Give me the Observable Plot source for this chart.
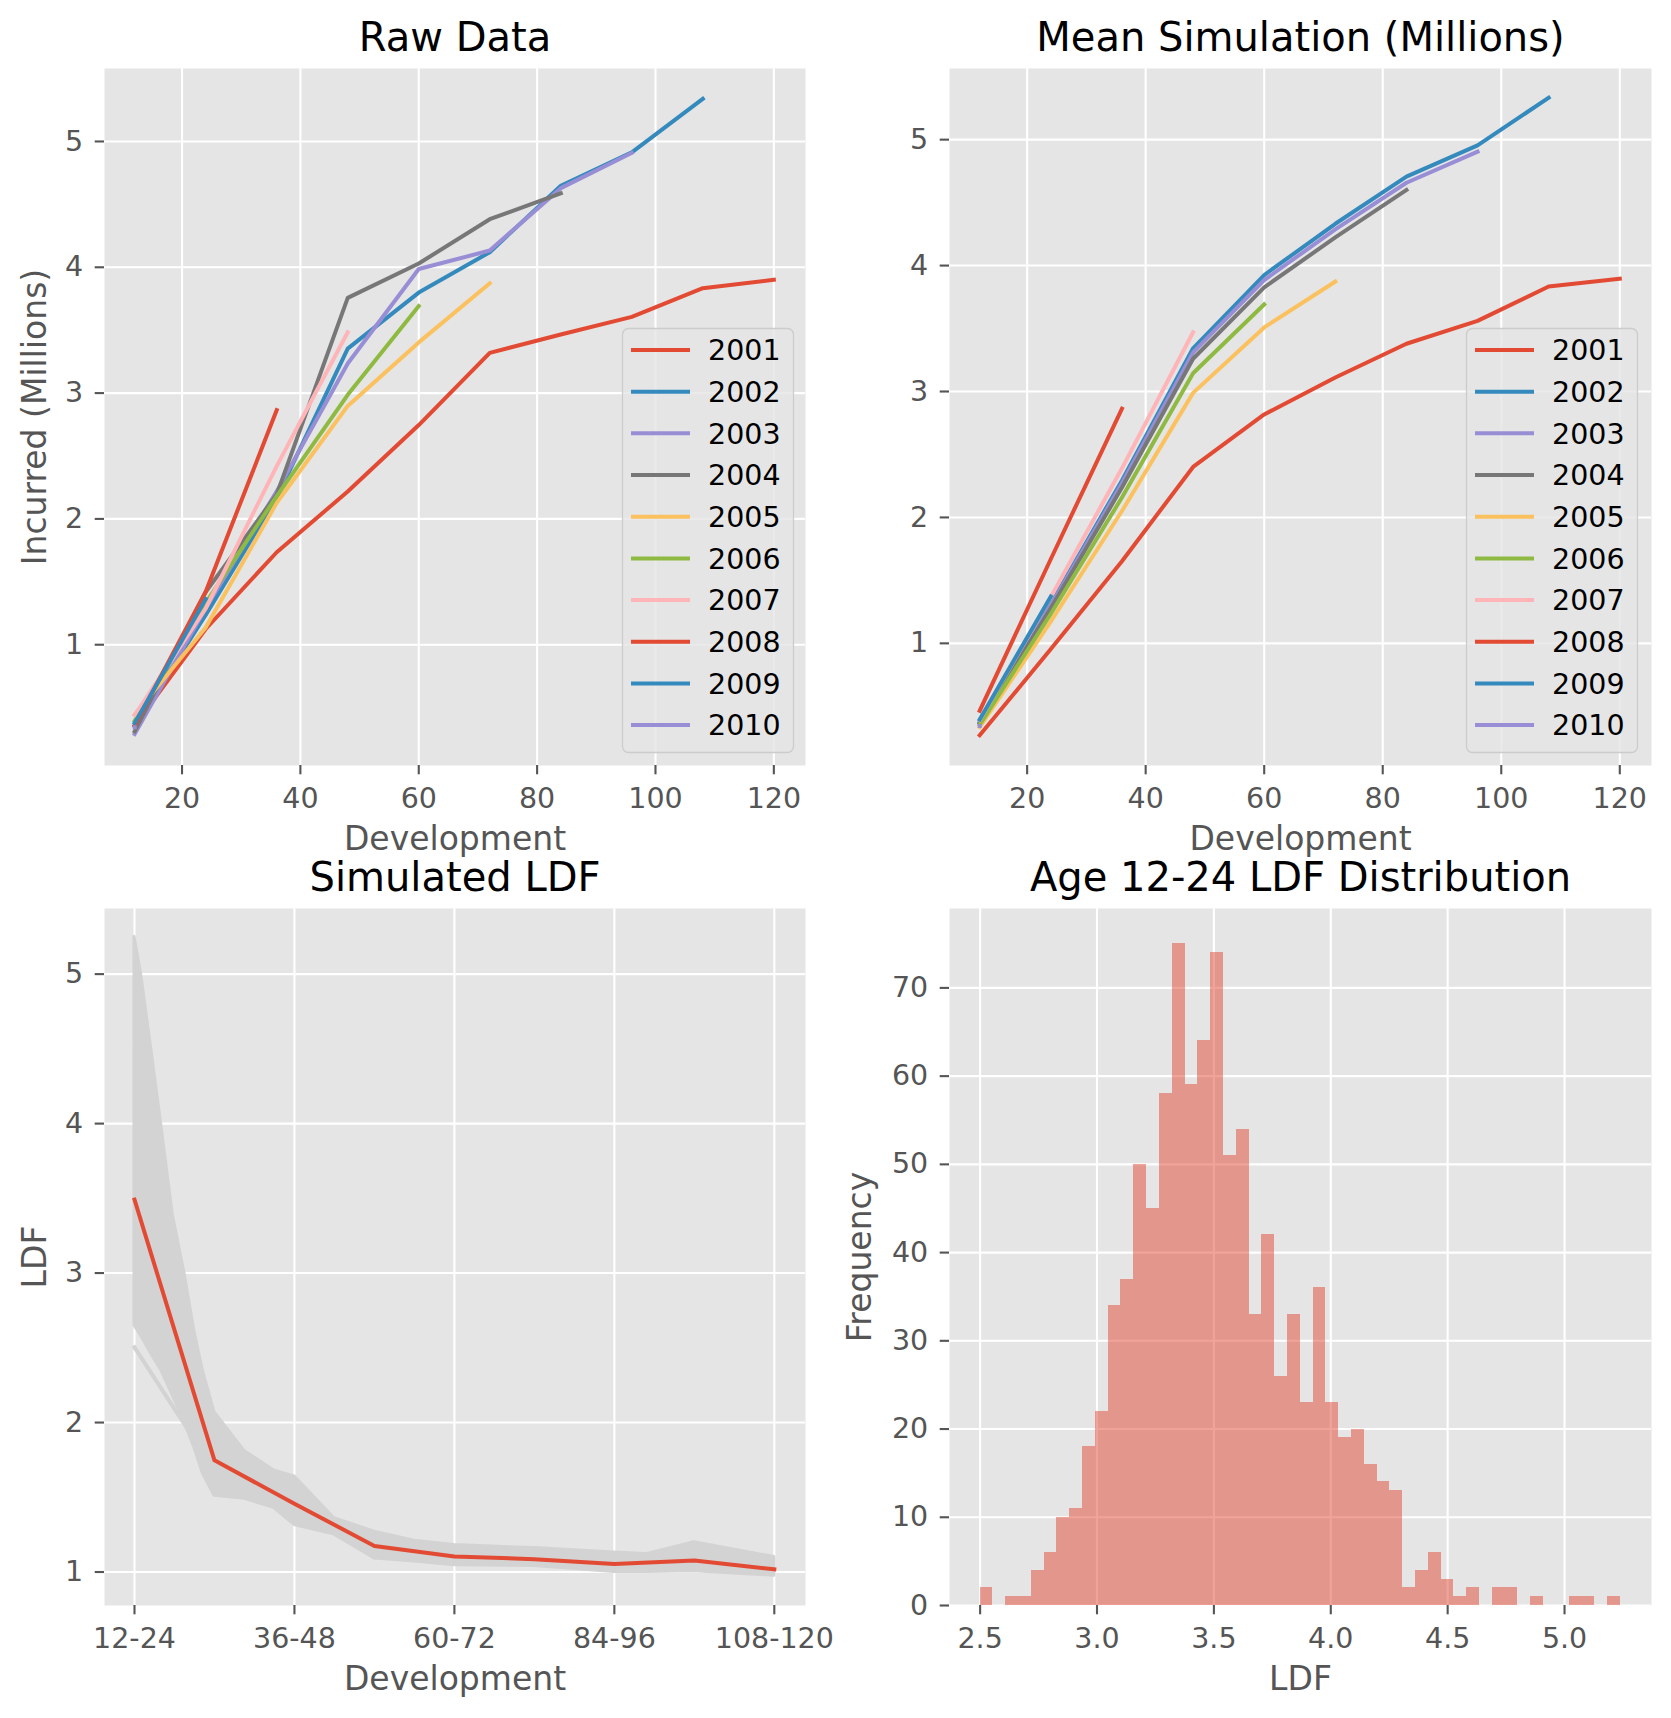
<!DOCTYPE html>
<html>
<head>
<meta charset="utf-8">
<script src="https://cdn.jsdelivr.net/npm/d3@7"></script>
<script src="https://cdn.jsdelivr.net/npm/@observablehq/plot@0.6"></script>
<style>
  html, body { margin: 0; padding: 0; background: #ffffff; }
  #fig { position: relative; width: 1671px; height: 1718px; background: #ffffff; font-family: "DejaVu Sans"; }
</style>
</head>
<body>
<div id="fig"></div>
<script>
// ---------------- data ----------------
const years = [2001, 2002, 2003, 2004, 2005, 2006, 2007, 2008, 2009, 2010];
const ages = [12, 24, 36, 48, 60, 72, 84, 96, 108, 120];
const lineColors = ["#E24A33", "#348ABD", "#988ED5", "#777777", "#FBC15E", "#8EBA42", "#FFB5B8", "#E24A33", "#348ABD", "#988ED5"];

// Raw incurred triangle (millions), one row per origin year
const rawIncurred = [
  [0.358, 1.125, 1.735, 2.218, 2.746, 3.320, 3.466, 3.606, 3.834, 3.901],
  [0.352, 1.236, 2.170, 3.353, 3.799, 4.120, 4.648, 4.914, 5.339],
  [0.291, 1.292, 2.219, 3.235, 3.986, 4.133, 4.629, 4.909],
  [0.311, 1.419, 2.195, 3.757, 4.030, 4.382, 4.588],
  [0.443, 1.136, 2.128, 2.898, 3.403, 3.873],
  [0.396, 1.333, 2.181, 2.986, 3.692],
  [0.441, 1.288, 2.420, 3.483],
  [0.359, 1.421, 2.864],
  [0.377, 1.363],
  [0.344]
];

// Mean simulated triangle (millions)
const meanSimulated = [
  [0.270, 0.955, 1.652, 2.401, 2.818, 3.111, 3.379, 3.561, 3.834, 3.895],
  [0.376, 1.313, 2.294, 3.343, 3.925, 4.332, 4.706, 4.955, 5.333],
  [0.372, 1.300, 2.271, 3.310, 3.885, 4.288, 4.658, 4.905],
  [0.367, 1.280, 2.237, 3.260, 3.827, 4.224, 4.600],
  [0.336, 1.174, 2.051, 2.989, 3.509, 3.873],
  [0.354, 1.235, 2.158, 3.145, 3.692],
  [0.392, 1.368, 2.390, 3.470],
  [0.465, 1.670, 2.864],
  [0.395, 1.372],
  [0.344]
];

// Simulated LDF panel
const ldfLabels = ["12-24", "24-36", "36-48", "48-60", "60-72", "72-84", "84-96", "96-108", "108-120"];
const ldfMean = [3.491, 1.747, 1.457, 1.174, 1.104, 1.086, 1.054, 1.077, 1.018];
// envelope of the simulated LDF lines, at positions along the development axis
const bandPos  = [0, 0.083, 0.208, 0.333, 0.479, 0.625, 0.75, 0.854, 1, 1.375, 1.742, 2, 2.5, 3, 3.5, 4, 5, 6, 6.4, 7, 8];
const bandHigh = [5.25, 5.0, 4.51, 4.0, 3.39, 3.0, 2.61, 2.35, 2.07, 1.81, 1.68, 1.64, 1.36, 1.27, 1.21, 1.18, 1.16, 1.13, 1.12, 1.20, 1.10];
const bandLow  = [2.65, 2.58, 2.46, 2.35, 2.18, 2.0, 1.83, 1.66, 1.51, 1.49, 1.43, 1.315, 1.25, 1.09, 1.07, 1.045, 1.04, 1.0, 1.0, 1.005, 0.975];
// one low simulated line standing apart from the band between 12-24 and 24-36
const lowSamplePos = [0, 1];
const lowSampleLdf = [2.503, 1.68];

// Age 12-24 LDF histogram: 50 bins between min and max
const ldfMin = 2.500, ldfMax = 5.239;
const ldfCounts = [2, 0, 1, 1, 4, 6, 10, 11, 18, 22, 34, 37, 50, 45, 58, 75, 59, 64, 74, 51,
                   54, 33, 42, 26, 33, 23, 36, 23, 19, 20, 16, 14, 13, 2, 4, 6, 3, 1, 2, 0,
                   2, 2, 0, 1, 0, 0, 1, 1, 0, 1];

// ---------------- styling ----------------
const FONT = "DejaVu Sans";
const TICK = 28.5, TITLE = 40, LABEL = 33;
const BG = "#E5E5E5", AXC = "#555555", BAND = "#D3D3D3";
const LW = 4;

const fig = document.getElementById("fig");
function place(node, left, top) {
  node.style.position = "absolute";
  node.style.left = left + "px";
  node.style.top = top + "px";
  fig.appendChild(node);
}

function background(xt, yt) {
  return [
    Plot.frame({fill: BG}),
    Plot.gridX(xt, {stroke: "#ffffff", strokeOpacity: 1, strokeWidth: 2.1}),
    Plot.gridY(yt, {stroke: "#ffffff", strokeOpacity: 1, strokeWidth: 2.1})
  ];
}
function axes(xt, yt, xfmt, yfmt) {
  return [
    Plot.axisX(xt, {tickSize: 9.3, tickPadding: 12.7, fontSize: TICK, strokeWidth: 2.1, tickFormat: xfmt, label: null}),
    Plot.axisY(yt, {tickSize: 9.3, tickPadding: 12, fontSize: TICK, strokeWidth: 2.1, tickFormat: yfmt, label: null})
  ];
}
function texts(title, xlabel, ylabel, ylabelDx) {
  const m = [
    Plot.text([title], {text: d => d, frameAnchor: "top", lineAnchor: "bottom", dy: -17.5, fontSize: TITLE, fill: "#000000"}),
    Plot.text([xlabel], {text: d => d, frameAnchor: "bottom", lineAnchor: "bottom", dy: 84, fontSize: LABEL, fill: AXC})
  ];
  if (ylabel) m.push(Plot.text([ylabel], {text: d => d, frameAnchor: "left", rotate: -90, textAnchor: "middle", lineAnchor: "bottom", dx: ylabelDx, fontSize: LABEL, fill: AXC}));
  return m;
}
const baseStyle = {fontFamily: FONT, fontSize: TICK + "px", color: AXC, background: "transparent", overflow: "visible"};

function triangleRows(tri) {
  return years.flatMap((yr, i) => tri[i].map((v, j) => ({year: yr, age: ages[j], value: v})));
}
function triangleLines(rows) {
  return years.map((yr, i) => Plot.line(rows.filter(d => d.year === yr), {
    x: "age", y: "value", stroke: lineColors[i], strokeWidth: LW, strokeLinecap: "square", strokeLinejoin: "round"
  }));
}
function legend(left, top) {
  const w = 171, h = 424, rowY0 = 22, rowStep = 41.68;
  const svg = d3.create("svg").attr("width", w + 4).attr("height", h + 4)
    .style("font-family", FONT).style("overflow", "visible");
  svg.append("rect").attr("x", 0.5).attr("y", 0.5).attr("width", w).attr("height", h).attr("rx", 6)
    .attr("fill", BG).attr("fill-opacity", 0.8).attr("stroke", "#cccccc").attr("stroke-width", 1.3);
  years.forEach((yr, i) => {
    const cy = rowY0 + i * rowStep;
    svg.append("line").attr("x1", 11).attr("x2", 66).attr("y1", cy).attr("y2", cy)
      .attr("stroke", lineColors[i]).attr("stroke-width", LW).attr("stroke-linecap", "square");
    svg.append("text").attr("x", 86).attr("y", cy + 10.2).attr("font-size", TICK).attr("fill", "#000000").text(String(yr));
  });
  place(svg.node(), left, top);
}

const devTicks = [20, 40, 60, 80, 100, 120];
const incTicks = [1, 2, 3, 4, 5];

// ---------------- panel 1: Raw Data ----------------
const p1 = Plot.plot({
  width: 835, height: 870, marginLeft: 104, marginRight: 30, marginTop: 68, marginBottom: 105,
  x: {domain: [6.9, 125.35]}, y: {domain: [0.04, 5.58]},
  style: baseStyle,
  marks: [
    ...background(devTicks, incTicks),
    ...triangleLines(triangleRows(rawIncurred)),
    ...axes(devTicks, incTicks, d => String(d), d => String(d)),
    ...texts("Raw Data", "Development", "Incurred (Millions)", -59)
  ]
});
place(p1, 0, 0);
legend(622, 328);

// ---------------- panel 2: Mean Simulation ----------------
const p2 = Plot.plot({
  width: 836, height: 870, marginLeft: 114, marginRight: 20, marginTop: 68, marginBottom: 105,
  x: {domain: [6.9, 125.35]}, y: {domain: [0.03, 5.565]},
  style: baseStyle,
  marks: [
    ...background(devTicks, incTicks),
    ...triangleLines(triangleRows(meanSimulated)),
    ...axes(devTicks, incTicks, d => String(d), d => String(d)),
    ...texts("Mean Simulation (Millions)", "Development", null, 0)
  ]
});
place(p2, 835, 0);
legend(1466, 328);

// ---------------- panel 3: Simulated LDF ----------------
const ldfTickIdx = [0, 2, 4, 6, 8];
const ldfYTicks = [1, 2, 3, 4, 5];
const bandRows = bandPos.map((p, i) => ({pos: p, lo: bandLow[i], hi: bandHigh[i]}));
const lowRows = lowSamplePos.map((p, i) => ({pos: p, v: lowSampleLdf[i]}));
const meanRows = ldfMean.map((v, i) => ({pos: i, v}));
const p3 = Plot.plot({
  width: 835, height: 848, marginLeft: 104, marginRight: 30, marginTop: 38, marginBottom: 113,
  x: {domain: [-0.375, 8.39]}, y: {domain: [0.776, 5.439]},
  style: baseStyle,
  marks: [
    ...background(ldfTickIdx, ldfYTicks),
    Plot.areaY(bandRows, {x: "pos", y1: "lo", y2: "hi", fill: BAND, stroke: BAND, strokeWidth: 3, strokeLinejoin: "round"}),
    Plot.line(lowRows, {x: "pos", y: "v", stroke: BAND, strokeWidth: LW, strokeLinecap: "square"}),
    Plot.line(meanRows, {x: "pos", y: "v", stroke: "#E24A33", strokeWidth: LW, strokeLinecap: "square", strokeLinejoin: "round"}),
    ...axes(ldfTickIdx, ldfYTicks, i => ldfLabels[i], d => String(d)),
    ...texts("Simulated LDF", "Development", "LDF", -58.5)
  ]
});
place(p3, 0, 870);

// ---------------- panel 4: Age 12-24 LDF Distribution ----------------
const binW = (ldfMax - ldfMin) / ldfCounts.length;
const histRows = ldfCounts.map((c, k) => ({x1: ldfMin + k * binW, x2: ldfMin + (k + 1) * binW, y1: 0, y2: c}));
const histXTicks = [2.5, 3.0, 3.5, 4.0, 4.5, 5.0];
const histYTicks = [0, 10, 20, 30, 40, 50, 60, 70];
const p4 = Plot.plot({
  width: 836, height: 848, marginLeft: 114, marginRight: 20, marginTop: 38, marginBottom: 113,
  x: {domain: [2.369, 5.372]}, y: {domain: [0, 79]},
  style: baseStyle,
  marks: [
    ...background(histXTicks, histYTicks),
    Plot.rect(histRows.filter(d => d.y2 > 0), {x1: "x1", x2: "x2", y1: "y1", y2: "y2", fill: "#E24A33", fillOpacity: 0.5, inset: 0, shapeRendering: "crispEdges"}),
    ...axes(histXTicks, histYTicks, d3.format(".1f"), d => String(d)),
    ...texts("Age 12-24 LDF Distribution", "LDF", "Frequency", -79)
  ]
});
place(p4, 835, 870);
</script>
</body>
</html>
